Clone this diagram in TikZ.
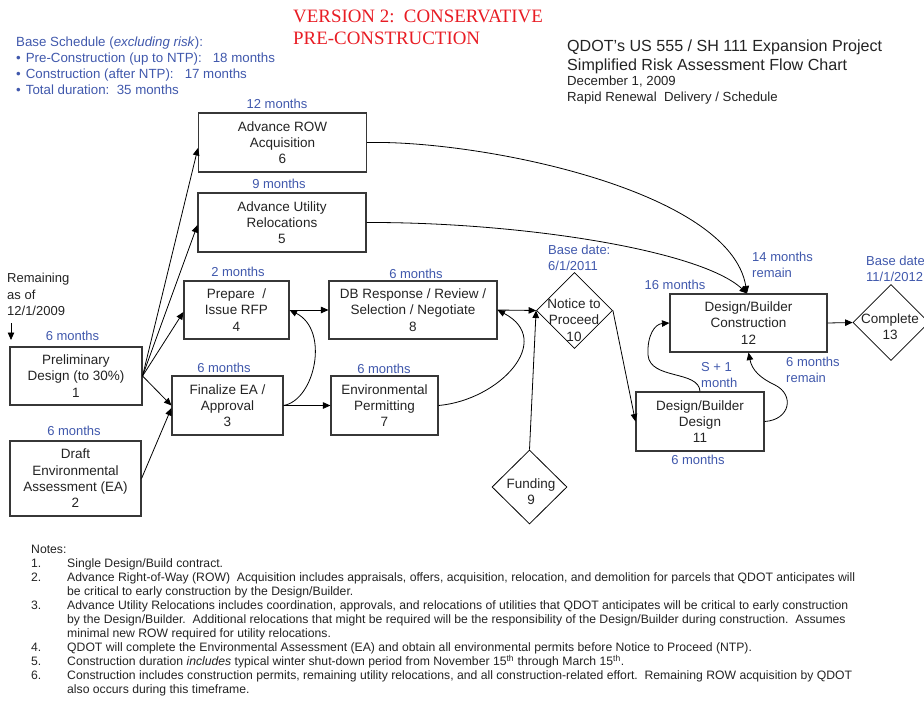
\documentclass[tikz,border=0pt]{standalone}
\usepackage{fontspec}
\setmainfont{Liberation Sans}
\newfontfamily\redserif{Liberation Serif}
\usetikzlibrary{arrows.meta,shapes.geometric,calc}
\definecolor{lblblue}{RGB}{64,88,172}
\definecolor{boxline}{RGB}{55,55,55}
\definecolor{txtgrey}{RGB}{35,35,35}
\definecolor{vred}{RGB}{232,28,36}
\begin{document}
\begin{tikzpicture}[x=1pt,y=-1pt,
  box/.style={draw=boxline,line width=1.1pt,inner sep=0pt,align=center,text=txtgrey,font=\fontsize{13.5}{16.3}\selectfont},
  dia/.style={draw=black,line width=0.8pt,diamond,inner sep=0pt,minimum width=76pt,minimum height=76pt},
  diatext/.style={align=center,text=txtgrey,inner sep=0pt,font=\fontsize{13.5}{16.3}\selectfont},
  lbl/.style={text=lblblue,inner sep=0pt,align=left,font=\fontsize{13}{16}\selectfont},
  conn/.style={draw=black,line width=0.8pt,-{Triangle[length=7.5pt,width=6.5pt]}},
  notetext/.style={anchor=base west,inner sep=0pt,text=txtgrey,font=\fontsize{12.2}{14}\selectfont},
  sched/.style={anchor=base west,inner sep=0pt,text=lblblue,font=\fontsize{13.3}{16}\selectfont},
  ttl/.style={anchor=base west,inner sep=0pt,text=txtgrey},
  redttl/.style={anchor=base west,inner sep=0pt,text=vred,font=\redserif\fontsize{18.9}{22}\selectfont}
]
\useasboundingbox (0,0) rectangle (924,706);

% ---- header texts
\node[redttl] (v1) at (293,23) {VERSION 2:\ \ CONSERVATIVE};
\node[redttl] (v2) at (293,44.5) {PRE-CONSTRUCTION};

\node[sched] (s1) at (16,46.5) {Base Schedule (\textit{excluding risk}):};
\node[sched] (s2) at (16,63) {\textbullet\hspace{5pt}Pre-Construction (up to NTP):\ \ \ 18 months};
\node[sched] (s3) at (16,79) {\textbullet\hspace{5pt}Construction (after NTP):\ \ \ 17 months};
\node[sched] (s4) at (16,95) {\textbullet\hspace{5pt}Total duration:\ \ 35 months};

\node[ttl,font=\fontsize{16.1}{18}\selectfont] (t1) at (567,51.5) {QDOT’s US 555 / SH 111 Expansion Project};
\node[ttl,font=\fontsize{16.1}{18}\selectfont] (t2) at (567,70.5) {Simplified Risk Assessment Flow Chart};
\node[ttl,font=\fontsize{13.2}{15}\selectfont] (t3) at (567,86) {December 1, 2009};
\node[ttl,font=\fontsize{13.2}{15}\selectfont] (t4) at (567,102) {Rapid Renewal\ \ Delivery / Schedule};

% ---- boxes
\node[box,minimum width=168pt,minimum height=59pt] (n6) at (282.5,142.5) {Advance ROW\\Acquisition\\6};
\node[box,minimum width=168pt,minimum height=59pt] (n5) at (282,222.5) {Advance Utility\\Relocations\\5};
\node[box,minimum width=105pt,minimum height=58pt] (n4) at (236.5,310) {Prepare\ \ /\\Issue RFP\\4};
\node[box,minimum width=168pt,minimum height=58pt] (n8) at (413,310) {DB Response / Review /\\Selection / Negotiate\\8};
\node[box,minimum width=132pt,minimum height=58pt] (n1) at (76,376) {Preliminary\\Design (to 30\%)\\1};
\node[box,minimum width=131pt,minimum height=75pt] (n2) at (75.5,478.5) {Draft\\Environmental\\Assessment (EA)\\2};
\node[box,minimum width=111pt,minimum height=59pt] (n3) at (227.5,405.5) {Finalize EA /\\Approval\\3};
\node[box,minimum width=107pt,minimum height=59pt] (n7) at (384.5,405.5) {Environmental\\Permitting\\7};
\node[box,minimum width=157pt,minimum height=58pt] (n12) at (748.5,323) {Design/Builder\\Construction\\12};
\node[box,minimum width=128pt,minimum height=59pt] (n11) at (700,421.5) {Design/Builder\\Design\\11};

% ---- diamonds
\node[dia] (n10) at (574.5,310.5) {};
\node[diatext] (t10) at (574,320) {Notice to\\Proceed\\10};
\node[dia,minimum width=75pt,minimum height=74pt] (n9) at (529.5,487) {};
\node[diatext] (t9) at (531,492) {Funding\\9};
\node[dia] (n13) at (891,322.5) {};
\node[diatext] (t13) at (890,327) {Complete\\13};

% ---- duration labels
\node[lbl] (l6) at (277,104) {12 months};
\node[lbl] (l5) at (279,184) {9 months};
\node[lbl] (l4) at (238,272) {2 months};
\node[lbl] (l8) at (416,274) {6 months};
\node[lbl] (l1) at (72.5,336) {6 months};
\node[lbl] (l2) at (74,431) {6 months};
\node[lbl] (l3) at (224,368) {6 months};
\node[lbl] (l7) at (384,369) {6 months};
\node[lbl,anchor=west] (l10) at (548,257.5) {Base date:\\6/1/2011};
\node[lbl,anchor=west] (l12a) at (752,265) {14 months\\remain};
\node[lbl] (l12b) at (675,285) {16 months};
\node[lbl,anchor=west] (l11a) at (701,375) {S + 1\\month};
\node[lbl,anchor=west] (l11b) at (786,369.5) {6 months\\remain};
\node[lbl] (l11c) at (698,460) {6 months};
\node[lbl,anchor=west] (l13) at (866,269) {Base date\\11/1/2012};

\node[anchor=west,inner sep=0pt,align=left,text=txtgrey,font=\fontsize{13}{16.3}\selectfont] (rem) at (7,294.5) {Remaining\\as of\\12/1/2009};
\coordinate (ra) at (11,323);
\coordinate (rb) at (11,340);
\draw[conn] (ra) -- (rb);

% ---- connectors
\draw[conn] (n1.east) -- ([yshift=-5.5pt]n6.west);
\draw[conn] (n1.east) -- ([yshift=-2.5pt]n5.west);
\draw[conn] (n1.east) -- ([yshift=-2pt]n4.west);
\draw[conn] (n1.east) -- (n3.west);
\draw[conn] (n2.east) -- ([yshift=-2.5pt]n3.west);
\draw[conn] (n4.east) -- (n8.west);
\draw[conn] (n3.east) -- (n7.west);
\draw[conn] (n8.east) -- (n10.west);
\draw[conn] (n9.north) -- (n10.west);
\draw[conn] (n10.east) -- (n11.west);
\draw[conn] (n12.east) -- (n13.west);
\draw[conn] (n3.east) .. controls (315,400) and (330,330) .. (n4.east);
\draw[conn] (n7.east) .. controls (500,400) and (555,340) .. (n8.east);
\draw[conn] (n6.east) .. controls (480,140) and (730,190) .. ([xshift=-1.5pt]n12.north);
\draw[conn] (n5.east) .. controls (520,222) and (700,250) .. ([xshift=-1.5pt]n12.north);
\draw[conn] (n11.north) .. controls (699,370) and (650,380) .. (648,355) .. controls (647,335) and (655,324) .. (n12.west);
\draw[conn] (n11.east) .. controls (790,420) and (795,395) .. (775,385) .. controls (760,378) and (752,370) .. (n12.south);

% ---- notes
\node[notetext] (nh) at (31,553.4) {Notes:};
\node[notetext] (k1) at (31,567.4) {1.};
\node[notetext] (m1) at (67,567.4) {Single Design/Build contract.};
\node[notetext] (k2) at (31,581.4) {2.};
\node[notetext] (m2) at (67,581.4) {Advance Right-of-Way (ROW)\ \ Acquisition includes appraisals, offers, acquisition, relocation, and demolition for parcels that QDOT anticipates will};
\node[notetext] (m2b) at (67,595.4) {be critical to early construction by the Design/Builder.};
\node[notetext] (k3) at (31,609.4) {3.};
\node[notetext] (m3) at (67,609.4) {Advance Utility Relocations includes coordination, approvals, and relocations of utilities that QDOT anticipates will be critical to early construction};
\node[notetext] (m3b) at (67,623.4) {by the Design/Builder.\ \ Additional relocations that might be required will be the responsibility of the Design/Builder during construction.\ \ Assumes};
\node[notetext] (m3c) at (67,637.4) {minimal new ROW required for utility relocations.};
\node[notetext] (k4) at (31,651.9) {4.};
\node[notetext] (m4) at (67,651.9) {QDOT will complete the Environmental Assessment (EA) and obtain all environmental permits before Notice to Proceed (NTP).};
\node[notetext] (k5) at (31,665.9) {5.};
\node[notetext] (m5) at (67,665.9) {Construction duration \textit{includes} typical winter shut-down period from November 15\textsuperscript{th} through March 15\textsuperscript{th}.};
\node[notetext] (k6) at (31,679.9) {6.};
\node[notetext] (m6) at (67,679.9) {Construction includes construction permits, remaining utility relocations, and all construction-related effort.\ \ Remaining ROW acquisition by QDOT};
\node[notetext] (m6b) at (67,693.9) {also occurs during this timeframe.};
\end{tikzpicture}
\end{document}
